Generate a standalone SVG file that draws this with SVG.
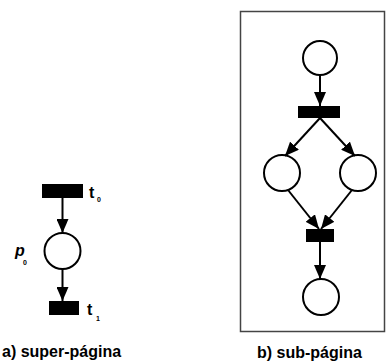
<svg xmlns="http://www.w3.org/2000/svg" width="391" height="364" viewBox="0 0 391 364">
  <style>
    .place { fill: #fff; stroke: #000; stroke-width: 2; }
    .trans { fill: #000; }
    .arc { stroke: #000; stroke-width: 2; fill: none; marker-end: url(#head); }
    .lbl { font-family: "Liberation Sans", Arial, sans-serif; font-weight: bold; fill: #000; }
    .cap { font-size: 16px; }
    .sym { font-size: 16px; }
    .sub { font-size: 7px; }
    .frame { fill: none; stroke: #444; stroke-width: 1.5; }
  </style>
  <defs>
    <marker id="head" markerUnits="userSpaceOnUse" markerWidth="14" markerHeight="12" viewBox="0 0 14 12" refX="14" refY="6" orient="auto">
      <path d="M0,0 L14,6 L0,12 Z" fill="#000"/>
    </marker>
  </defs>
  <rect fill="#fff" x="0" y="0" width="391" height="364"/>

  <!-- super-page -->
  <g id="t0">
    <rect class="trans" x="42" y="184" width="41" height="14"/>
    <text class="lbl sym" x="89" y="198">t</text>
    <text class="lbl sub" x="97" y="202">0</text>
  </g>
  <g id="p0">
    <circle class="place" cx="62.5" cy="251" r="18"/>
    <text class="lbl sym" x="15" y="256" font-style="italic">p</text>
    <text class="lbl sub" x="23" y="265">0</text>
  </g>
  <g id="t1">
    <rect class="trans" x="49" y="301" width="30" height="14"/>
    <text class="lbl sym" x="87" y="315">t</text>
    <text class="lbl sub" x="96" y="321">1</text>
  </g>

  <!-- sub-page -->
  <rect class="frame" x="240.5" y="11.5" width="144" height="320"/>
  <g id="s_top"><circle class="place" cx="320" cy="58" r="17"/></g>
  <g id="s_fork"><rect class="trans" x="298" y="106" width="42" height="12"/></g>
  <g id="s_left"><circle class="place" cx="282" cy="173" r="18"/></g>
  <g id="s_right"><circle class="place" cx="358" cy="173" r="18"/></g>
  <g id="s_join"><rect class="trans" x="306" y="229" width="28" height="13"/></g>
  <g id="s_end"><circle class="place" cx="321" cy="297" r="18"/></g>

  <g id="arcs">
    <line class="arc" x1="62.5" y1="198" x2="62.5" y2="233"/>
    <line class="arc" x1="62.5" y1="269" x2="62.5" y2="301"/>
    <line class="arc" x1="320" y1="75" x2="320" y2="106"/>
    <line class="arc" x1="320" y1="118" x2="285" y2="156"/>
    <line class="arc" x1="320" y1="118" x2="355" y2="156"/>
    <line class="arc" x1="288" y1="190" x2="319" y2="229"/>
    <line class="arc" x1="352" y1="190" x2="321" y2="229"/>
    <line class="arc" x1="320" y1="242" x2="320" y2="279"/>
  </g>

  <text class="lbl cap" x="2" y="357">a) super-página</text>
  <text class="lbl cap" x="257" y="358">b) sub-página</text>
</svg>
